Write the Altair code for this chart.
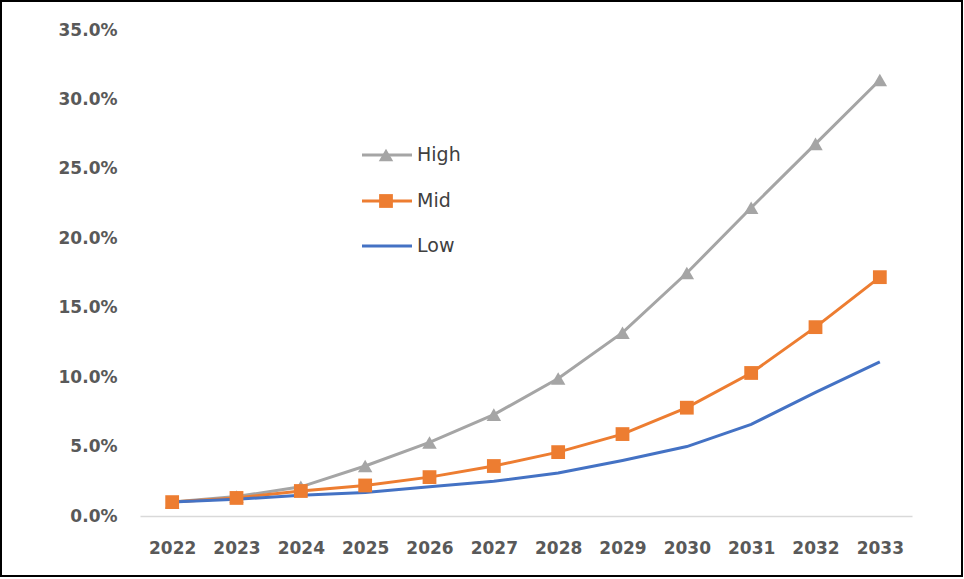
import altair as alt
import pandas as pd

years = ["2022", "2023", "2024", "2025", "2026", "2027", "2028", "2029", "2030", "2031", "2032", "2033"]
high = [1.0, 1.4, 2.1, 3.6, 5.3, 7.3, 9.9, 13.2, 17.5, 22.2, 26.8, 31.4]
mid = [1.0, 1.3, 1.8, 2.2, 2.8, 3.6, 4.6, 5.9, 7.8, 10.3, 13.6, 17.2]
low = [1.0, 1.2, 1.5, 1.7, 2.1, 2.5, 3.1, 4.0, 5.0, 6.6, 8.9, 11.1]
series = ["High", "Mid", "Low"]
colors = ["#A5A5A5", "#ED7D31", "#4472C4"]

rows = []
for name, vals in zip(series, [high, mid, low]):
    for y, v in zip(years, vals):
        rows.append({"year": y, "series": name, "value": v / 100})
df = pd.DataFrame(rows)

W, H = 772, 486
FONT = "DejaVu Sans"

x = alt.X("year:O", sort=years, title=None,
          scale=alt.Scale(paddingInner=0, paddingOuter=0.5),
          axis=alt.Axis(labelAngle=0, ticks=False, domain=True, domainColor="#D9D9D9",
                        domainWidth=1.5, labelPadding=24, labelFontSize=17,
                        labelFont=FONT, labelFontWeight="bold", labelColor="#595959"))
y = alt.Y("value:Q", title=None,
          scale=alt.Scale(domain=[0, 0.35], nice=False),
          axis=alt.Axis(format=".1%", values=[0, 0.05, 0.1, 0.15, 0.2, 0.25, 0.3, 0.35],
                        ticks=False, domain=False, grid=False, labelPadding=23,
                        labelFontSize=17, labelFont=FONT, labelFontWeight="bold",
                        labelColor="#595959"))
color = alt.Color("series:N", scale=alt.Scale(domain=series, range=colors), legend=None)

lines = alt.Chart(df).mark_line(strokeWidth=3).encode(x=x, y=y, color=color, order=alt.Order("year:O"))
high_pts = alt.Chart(df).transform_filter(alt.datum.series == "High").mark_point(
    shape="triangle-up", filled=True, size=210, opacity=1, color="#A5A5A5").encode(x=x, y=y)
mid_pts = alt.Chart(df).transform_filter(alt.datum.series == "Mid").mark_point(
    shape="square", filled=True, size=190, opacity=1, color="#ED7D31").encode(x=x, y=y)

# manual legend inside the plot
leg = pd.DataFrame({"series": series, "ly": [125, 171, 216]})
leg_line = alt.Chart(leg).mark_rule(strokeWidth=3).encode(
    x=alt.value(222), x2=alt.value(272), y=alt.Y("ly:Q", scale=None), color=color)
leg_high = alt.Chart(leg).transform_filter(alt.datum.series == "High").mark_point(
    shape="triangle-up", filled=True, size=210, opacity=1, color="#A5A5A5").encode(
    x=alt.value(246), y=alt.Y("ly:Q", scale=None))
leg_mid = alt.Chart(leg).transform_filter(alt.datum.series == "Mid").mark_point(
    shape="square", filled=True, size=190, opacity=1, color="#ED7D31").encode(
    x=alt.value(246), y=alt.Y("ly:Q", scale=None))
leg_text = alt.Chart(leg).mark_text(align="left", baseline="middle", fontSize=19,
                                    font=FONT, color="#404040").encode(
    x=alt.value(277), y=alt.Y("ly:Q", scale=None), text="series:N")

frame = alt.Chart(leg).mark_rect(fill=None, stroke="#000000", strokeWidth=2).encode(
    x=alt.value(-139), x2=alt.value(822), y=alt.value(-29), y2=alt.value(546))

chart = alt.layer(lines, high_pts, mid_pts, leg_line, leg_high, leg_mid, leg_text, frame).properties(
    width=W, height=H,
    padding={"left": 140, "top": 30, "right": 52, "bottom": 63},
    autosize=alt.AutoSizeParams(type="none"),
    background="white",
).configure_view(stroke=None)

chart.save("out.html", embed_options={"renderer": "svg", "actions": False})
